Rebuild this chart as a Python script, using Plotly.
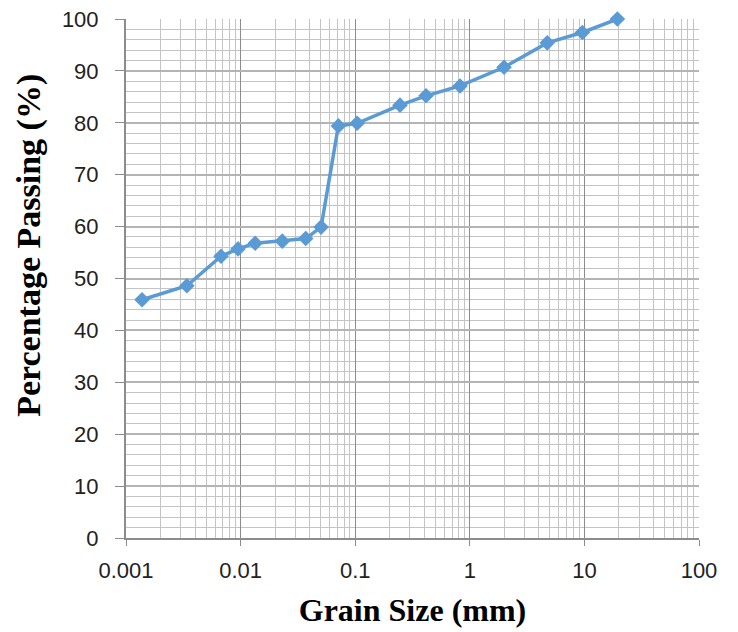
import plotly.graph_objects as go

grain_size_mm = [0.00138, 0.0034, 0.00675, 0.0095, 0.0134, 0.0231, 0.037, 0.0504,
                 0.0713, 0.104, 0.246, 0.415, 0.822, 1.99, 4.74, 9.6, 19.4]
percent_passing = [45.9, 48.6, 54.3, 55.7, 56.8, 57.2, 57.7, 59.9,
                   79.4, 79.9, 83.4, 85.2, 87.1, 90.7, 95.4, 97.4, 100.0]

x_tick_vals = [0.001, 0.01, 0.1, 1, 10, 100]
x_tick_text = ["0.001", "0.01", "0.1", "1", "10", "100"]
y_tick_vals = [0, 10, 20, 30, 40, 50, 60, 70, 80, 90, 100]

fig = go.Figure()
fig.add_trace(go.Scatter(
    x=grain_size_mm, y=percent_passing, mode="lines+markers",
    line=dict(color="#5B9BD5", width=3.5),
    marker=dict(symbol="diamond", size=12, color="#5B9BD5"),
    showlegend=False,
    cliponaxis=False,
))

title_font = dict(family="Liberation Serif", size=32, color="black", weight="bold")

fig.update_layout(
    width=730, height=624,
    margin=dict(l=118, r=39, t=11, b=94),
    paper_bgcolor="white", plot_bgcolor="white",
    font=dict(family="Liberation Sans", size=22, color="#222222"),
    xaxis=dict(
        type="log", range=[-3, 2], automargin=False,
        tickvals=x_tick_vals, ticktext=x_tick_text,
        showgrid=True, gridcolor="#8c8c8c", gridwidth=1.3,
        minor=dict(dtick="D1", showgrid=True, gridcolor="#c4c4c4", gridwidth=1.3, ticks=""),
        ticks="outside", ticklen=6, tickcolor="#8c8c8c",
        ticklabelstandoff=6, ticklabeloverflow="allow",
        showline=True, linecolor="#8c8c8c", linewidth=1.5, mirror=False,
        zeroline=False,
        title=dict(text="Grain Size (mm)", font=title_font, standoff=16),
        tickfont=dict(size=22),
    ),
    yaxis=dict(
        range=[0, 100], tickvals=y_tick_vals, automargin=False,
        showgrid=True, gridcolor="#b4b4b4", gridwidth=1.5,
        minor=dict(dtick=2, showgrid=True, gridcolor="#c4c4c4", gridwidth=1.2, ticks=""),
        ticks="outside", ticklen=9, tickcolor="#8c8c8c",
        ticklabelstandoff=12, ticklabeloverflow="allow",
        showline=True, linecolor="#8c8c8c", linewidth=2,
        zeroline=False,
        tickfont=dict(size=22),
    ),
    annotations=[dict(
        text="Percentage Passing (%)", textangle=-90, showarrow=False,
        xref="paper", yref="paper", x=0, y=0.563, xanchor="center", yanchor="middle",
        xshift=-97, font=dict(family="Liberation Serif", size=34, color="black", weight="bold"),
    )],
)

fig.write_html("out.html")
